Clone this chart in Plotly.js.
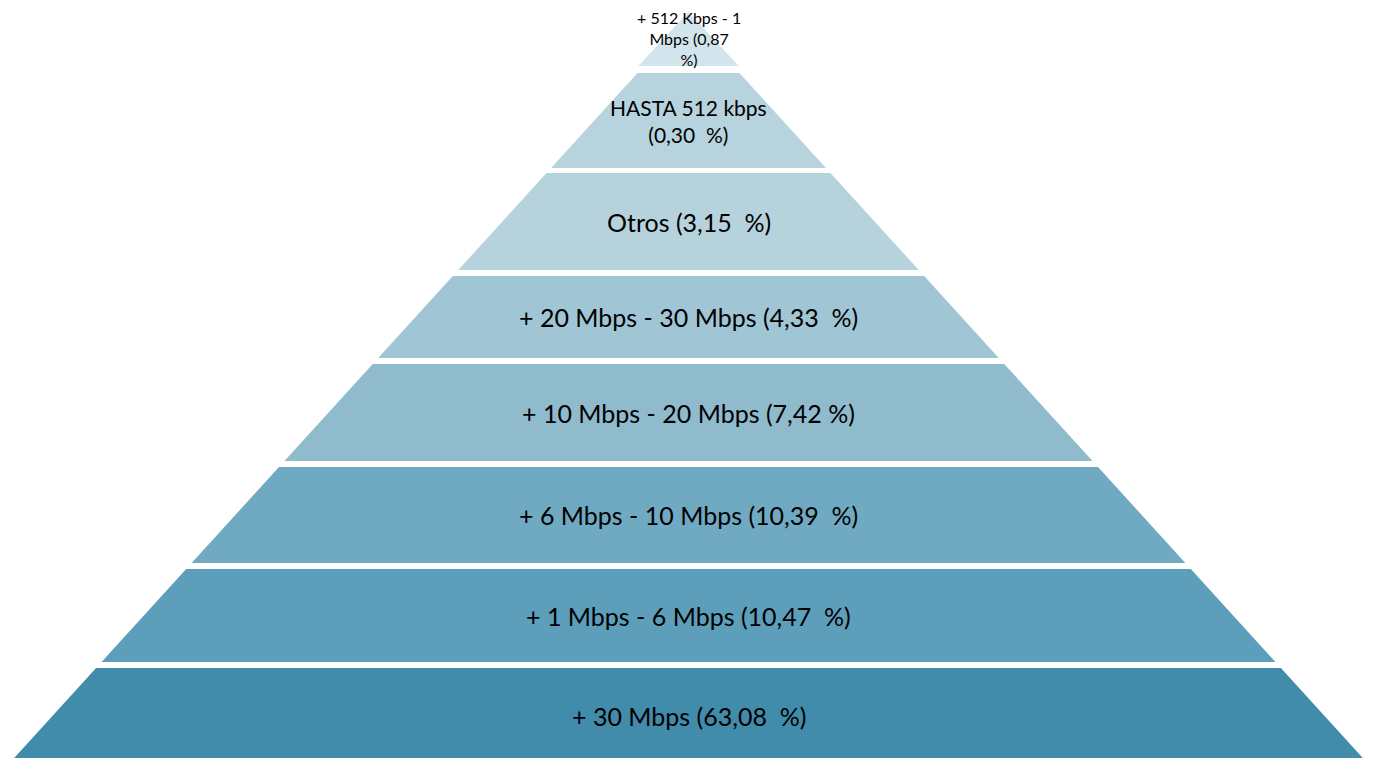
<!DOCTYPE html>
<html>
<head>
<meta charset="utf-8">
<script src="https://cdn.plot.ly/plotly-3.0.1.min.js"></script>
<style>html,body{margin:0;padding:0;background:#fff;}#chart{width:1376px;height:758px;}</style>
</head>
<body>
<div id="chart"></div>
<script>
// Data (bottom level first)
const categories = [
  "+ 30 Mbps",
  "+ 1 Mbps - 6 Mbps",
  "+ 6 Mbps - 10 Mbps",
  "+ 10 Mbps - 20 Mbps",
  "+ 20 Mbps - 30 Mbps",
  "Otros",
  "HASTA 512 kbps",
  "+ 512 Kbps - 1 Mbps"
];
const values = [63.08, 10.47, 10.39, 7.42, 4.33, 3.15, 0.30, 0.87];

// Presentation (layout, not data)
const colors = ["#418bab", "#5d9fbb", "#70aac2", "#8fbbcd", "#a0c6d5", "#b5d2dd", "#b6d3de", "#d3e5ec"];
const bandTop    = [668, 569, 467, 364, 276, 173, 73, 12];
const bandBottom = [764, 662, 563, 461, 358, 270, 168, 66];
const fontSizes  = [25, 25, 25, 25, 25, 25, 21, 16];
const apexX = 688.5, apexY = 17, slope = 0.91;

function fmt(v){ return v.toFixed(2).replace('.', ','); }
function labelText(i){
  const name = categories[i], v = fmt(values[i]);
  if (i === 7) return "+ 512 Kbps - 1<br>Mbps (" + v + "<br>%)";
  if (i === 6) return name + "<br>(" + v + "\u00a0\u00a0%)";
  if (i === 3) return name + " (" + v + " %)";
  return name + " (" + v + "\u00a0\u00a0%)";
}
function halfW(y, i){
  // top piece is a small triangle, slightly wider than the common slope
  if (i === 7) return Math.max(0, (y - bandTop[7]) * 0.93);
  return Math.max(0, (y - apexY) * slope);
}

const traces = categories.map((c, i) => {
  const t = bandTop[i], b = bandBottom[i];
  const xs = [apexX - halfW(t, i), apexX + halfW(t, i), apexX + halfW(b, i), apexX - halfW(b, i), apexX - halfW(t, i)];
  const ys = [t, t, b, b, t];
  return {
    type: "scatter", mode: "lines", x: xs, y: ys, fill: "toself",
    fillcolor: colors[i], line: {width: 0, color: colors[i]},
    hoverinfo: "text", text: c + ": " + fmt(values[i]) + " %", showlegend: false
  };
});

const annotations = categories.map((c, i) => ({
  x: apexX, y: (bandTop[i] + bandBottom[i]) / 2,
  xref: "x", yref: "y", text: labelText(i), showarrow: false,
  font: {family: "Lato, 'Open Sans', sans-serif", size: fontSizes[i], color: "#000"},
  align: "center", xanchor: "center", yanchor: "middle"
}));
annotations[0].y = 716;
annotations[7].y = 38;

const layout = {
  width: 1376, height: 758,
  margin: {l: 0, r: 0, t: 0, b: 0},
  paper_bgcolor: "#fff", plot_bgcolor: "#fff",
  xaxis: {range: [0, 1376], visible: false, fixedrange: true},
  yaxis: {range: [758, 0], visible: false, fixedrange: true},
  annotations: annotations,
  showlegend: false
};

Plotly.newPlot("chart", traces, layout, {displayModeBar: false, staticPlot: true});
</script>
</body>
</html>
